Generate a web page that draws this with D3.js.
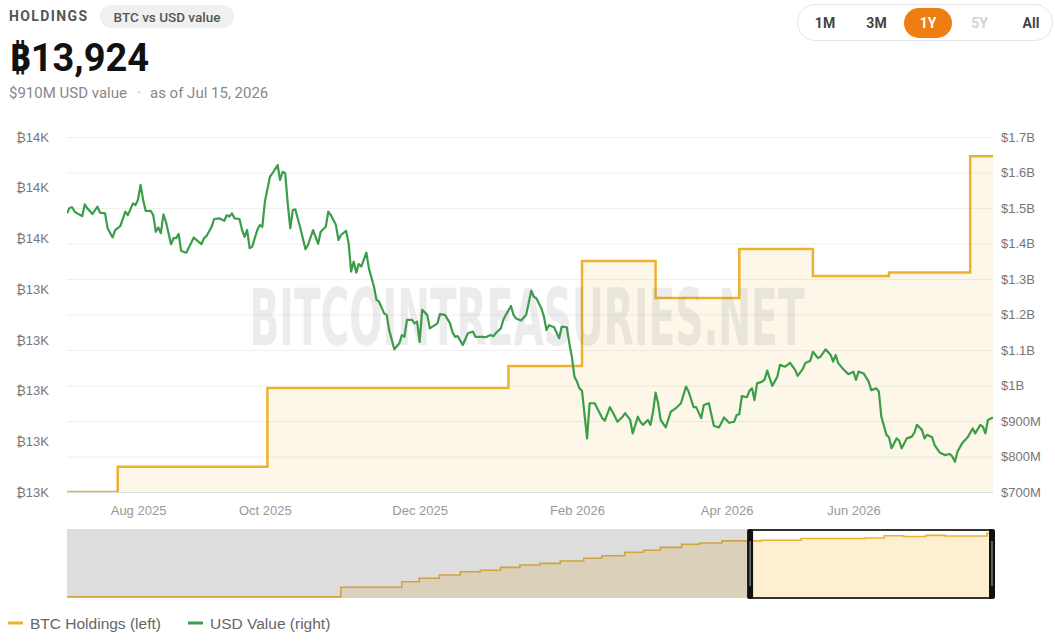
<!DOCTYPE html>
<html>
<head>
<meta charset="utf-8">
<script src="https://cdn.jsdelivr.net/npm/d3@7"></script>
<style>
  body { margin: 0; background: #fff; }
  svg { display: block; font-family: "Liberation Sans", Arial, "Noto Sans", "DejaVu Sans", sans-serif; }
</style>
</head>
<body>
<svg id="chart" width="1055" height="641"></svg>
<script>
// ---- data (day offsets from Jul 15, 2025) ----
var holdDays = [0, 20, 79, 174, 203, 232, 265, 294, 324, 356, 365];
var holdBtc  = [12600, 12700, 13010, 13097, 13511, 13365, 13558, 13452, 13466, 13924, 13924];

// earlier history, only shown in the navigator
var histDays = [-1015, -607, -516, -490, -460, -429, -399, -369, -340, -310, -280, -245, -218, -184, -156, -131, -99, -72, -39];
var histBtc  = [2830, 4470, 5450, 6050, 6630, 7200, 7450, 7970, 8380, 8670, 9080, 9550, 10000, 10600, 10950, 11470, 12000, 12230, 12600];

// USD value, $M
var usdDays = [0,1,2,3,4,6,7,8,9,10,12,13,15,16,18,19,21,23,24,26,27,28,29,30,31,33,34,35,36,37,38,39,41,42,43,44,45,47,50,51,53,54,55,57,58,60,62,63,64,65,66,68,69,70,71,72,73,75,76,77,78,80,81,83,84,85,86,87,88,89,90,92,94,95,97,99,100,102,103,104,106,107,108,110,111,112,113,114,115,116,118,119,121,122,123,125,126,127,129,131,132,133,134,136,137,138,139,140,142,143,145,146,147,149,151,152,153,154,156,158,160,161,163,165,167,168,169,171,172,173,175,176,177,179,181,183,184,185,187,188,189,190,192,194,195,197,198,199,200,201,202,203,205,206,208,209,211,212,214,215,217,219,220,222,223,225,226,227,229,230,231,232,233,234,236,238,240,242,244,245,247,248,250,251,253,255,257,259,261,263,264,265,266,268,269,270,271,272,274,275,276,277,278,280,281,283,284,285,287,288,290,291,293,294,296,297,299,301,302,303,304,306,308,310,311,312,314,316,317,319,320,321,323,324,325,327,328,329,331,333,334,335,337,338,339,341,342,344,346,348,349,350,351,353,355,357,358,360,361,362,363,365];
var usdValue = [1485,1500,1502,1490,1485,1477,1510,1499,1492,1483,1504,1487,1485,1443,1417,1438,1449,1490,1480,1513,1508,1524,1565,1523,1492,1492,1480,1433,1445,1429,1482,1461,1398,1415,1415,1427,1379,1374,1417,1410,1398,1415,1421,1447,1469,1471,1464,1480,1476,1485,1471,1469,1438,1419,1438,1387,1391,1438,1452,1447,1518,1588,1598,1621,1579,1602,1598,1513,1443,1494,1496,1443,1384,1396,1438,1399,1433,1447,1490,1480,1452,1410,1424,1436,1401,1321,1349,1318,1342,1335,1374,1330,1278,1241,1236,1203,1199,1156,1102,1119,1142,1137,1185,1185,1175,1180,1123,1213,1199,1161,1170,1175,1201,1199,1175,1149,1137,1139,1114,1147,1152,1137,1137,1136,1142,1139,1147,1161,1185,1199,1224,1199,1189,1183,1199,1267,1250,1246,1217,1194,1156,1170,1164,1133,1166,1164,1119,1081,1025,1011,992,985,851,950,950,936,908,901,939,926,898,912,922,903,865,912,898,889,903,889,926,980,950,903,882,926,936,950,997,983,939,939,908,945,950,886,882,910,895,898,917,919,970,967,985,992,959,1006,1011,1017,1042,1020,999,1025,1058,1053,1058,1064,1044,1027,1046,1063,1070,1095,1077,1081,1102,1086,1067,1086,1063,1046,1032,1039,1016,1039,1034,1011,987,992,983,912,861,854,823,851,845,823,851,856,867,889,875,851,861,854,832,811,804,807,799,785,814,839,854,879,865,889,884,865,903,910];

var btcTicks = [12600, 12800, 13000, 13200, 13400, 13600, 13800, 14000];
var xTickDays = [28, 78, 139, 201, 260, 310];
var xTickLabels = ["Aug 2025", "Oct 2025", "Dec 2025", "Feb 2026", "Apr 2026", "Jun 2026"];
var ranges = ["1M", "3M", "1Y", "5Y", "All"];

// ---- layout ----
var svg = d3.select("#chart");
var plot = { left: 67, right: 993, top: 137, bottom: 492 };
var nav = { top: 529, bottom: 598 };
var YELLOW = "#edb22d", GREEN = "#3a9e48";

var x = d3.scaleLinear().domain([0, 365]).range([plot.left, plot.right]);
var yBtc = d3.scaleLinear().domain([12600, 14000]).range([plot.bottom, plot.top]);
var yUsd = d3.scaleLinear().domain([700, 1700]).range([plot.bottom, plot.top]);

var hold = holdDays.map(function (d, i) { return { d: d, v: holdBtc[i] }; });
var usd = usdDays.map(function (d, i) { return { d: d, v: usdValue[i] }; });

// ---- header ----
var head = svg.append("g").style("font-family", "Roboto, 'Noto Sans', sans-serif");
head.append("text").attr("x", 9).attr("y", 21)
    .attr("font-size", 14).attr("font-weight", 700).attr("letter-spacing", 1.4)
    .attr("fill", "#555").text("HOLDINGS");
head.append("rect").attr("x", 100).attr("y", 5).attr("width", 134).attr("height", 23)
    .attr("rx", 11.5).attr("fill", "#f0f0f0");
head.append("text").attr("x", 167).attr("y", 21.5).attr("text-anchor", "middle")
    .attr("font-size", 13.5).attr("font-weight", 500).attr("fill", "#555").text("BTC vs USD value");
head.append("text").attr("x", 9).attr("y", 71)
    .attr("font-size", 38).attr("font-weight", 700).attr("fill", "#111").text("₿13,924");
head.append("text").attr("x", 9).attr("y", 98).attr("font-size", 15).attr("fill", "#888")
    .text("$910M USD value");
head.append("text").attr("x", 137).attr("y", 98).attr("font-size", 15).attr("fill", "#aaa")
    .text("·");
head.append("text").attr("x", 150).attr("y", 98).attr("font-size", 15).attr("fill", "#888")
    .text("as of Jul 15, 2026");

// range selector
var rs = svg.append("g").style("font-family", "Roboto, 'Noto Sans', sans-serif");
rs.append("rect").attr("x", 797.5).attr("y", 4.5).attr("width", 255).attr("height", 36)
    .attr("rx", 18).attr("fill", "#fff").attr("stroke", "#e6e6e6");
var rx = d3.scalePoint().domain(ranges).range([825, 1031]);
rs.append("rect").attr("x", rx("1Y") - 24).attr("y", 8).attr("width", 48).attr("height", 30)
    .attr("rx", 15).attr("fill", "#ef7d11");
rs.selectAll("text.rng").data(ranges).enter().append("text")
    .attr("class", "rng")
    .attr("x", function (d) { return rx(d); })
    .attr("y", 28)
    .attr("text-anchor", "middle").attr("font-size", 14).attr("font-weight", 700)
    .attr("fill", function (d) { return d == "1Y" ? "#fff" : d == "5Y" ? "#d4d4d4" : "#444"; })
    .text(function (d) { return d; });

// ---- grid ----
svg.append("g").selectAll("line").data(yUsd.ticks(10)).enter().append("line")
    .attr("x1", plot.left).attr("x2", plot.right)
    .attr("y1", function (d) { return yUsd(d) + 0.5; })
    .attr("y2", function (d) { return yUsd(d) + 0.5; })
    .attr("stroke", function (d, i) { return i == 0 ? "#dedede" : "#efefef"; });

svg.append("clipPath").attr("id", "clip").append("rect")
    .attr("x", plot.left).attr("y", plot.top - 10)
    .attr("width", plot.right - plot.left).attr("height", plot.bottom - plot.top + 10);

var main = svg.append("g").attr("clip-path", "url(#clip)");

var holdArea = d3.area().curve(d3.curveStepAfter)
    .x(function (d) { return x(d.d); })
    .y0(plot.bottom)
    .y1(function (d) { return yBtc(d.v); });
var holdLine = d3.line().curve(d3.curveStepAfter)
    .x(function (d) { return x(d.d); })
    .y(function (d) { return yBtc(d.v); });
var usdLine = d3.line()
    .x(function (d) { return x(d.d); })
    .y(function (d) { return yUsd(d.v); });

main.append("path").datum(hold).attr("d", holdArea).attr("fill", "rgba(240,180,41,0.1)");

// watermark: narrow font size, stretched vertically
svg.append("text").attr("transform", "translate(527,345) scale(1,1.8)")
    .attr("text-anchor", "middle")
    .attr("font-family", "'DejaVu Sans Condensed', 'DejaVu Sans', sans-serif")
    .attr("font-weight", 700).attr("font-size", 44)
    .attr("textLength", 555).attr("lengthAdjust", "spacingAndGlyphs")
    .attr("fill", "#777").attr("fill-opacity", 0.14)
    .text("BITCOINTREASURIES.NET");

main.append("path").datum(hold).attr("d", holdLine)
    .attr("fill", "none").attr("stroke", YELLOW).attr("stroke-width", 2.5);
main.append("path").datum(usd).attr("d", usdLine)
    .attr("fill", "none").attr("stroke", GREEN).attr("stroke-width", 2.2)
    .attr("stroke-linejoin", "round");

// ---- axes ----
var axisStyle = function (g, color) {
    g.select(".domain").remove();
    g.selectAll("text").attr("font-size", 13).attr("fill", color)
        .attr("font-family", "'Liberation Sans', 'Noto Sans', 'DejaVu Sans', sans-serif");
};
svg.append("g").attr("transform", "translate(" + plot.left + ",0)")
    .call(d3.axisLeft(yBtc).tickValues(btcTicks).tickSize(0).tickPadding(18)
        .tickFormat(function (d) { return "₿" + Math.round(d / 1000) + "K"; }))
    .call(axisStyle, "#777");
svg.append("g").attr("transform", "translate(" + plot.right + ",0)")
    .call(d3.axisRight(yUsd).ticks(10).tickSize(0).tickPadding(8)
        .tickFormat(function (d) { return d >= 1000 ? "$" + d3.format(".1~f")(d / 1000) + "B" : "$" + d + "M"; }))
    .call(axisStyle, "#777");
svg.append("g").attr("transform", "translate(0," + plot.bottom + ")")
    .call(d3.axisBottom(x).tickValues(xTickDays).tickSize(0).tickPadding(14)
        .tickFormat(function (d, i) { return xTickLabels[i]; }))
    .call(axisStyle, "#999");

// ---- navigator ----
var navData = histDays.map(function (d, i) { return { d: d, v: histBtc[i] }; }).concat(hold);
var xNav = d3.scaleLinear().domain([-1015, 365]).range([plot.left, plot.right]);
var yNav = d3.scaleLinear().domain([2600, 14680]).range([nav.bottom, nav.top]);
var selL = xNav(0), selR = xNav(365);

var ng = svg.append("g");
ng.append("rect").attr("x", plot.left).attr("y", nav.top)
    .attr("width", plot.right - plot.left).attr("height", nav.bottom - nav.top).attr("fill", "#fff");
ng.append("path").datum(navData)
    .attr("d", d3.area().curve(d3.curveStepAfter)
        .x(function (d) { return xNav(d.d); }).y0(nav.bottom).y1(function (d) { return yNav(d.v); }))
    .attr("fill", "rgba(245,190,60,0.24)");
ng.append("path").datum(navData)
    .attr("d", d3.line().curve(d3.curveStepAfter)
        .x(function (d) { return xNav(d.d); }).y(function (d) { return yNav(d.v); }))
    .attr("fill", "none").attr("stroke", YELLOW).attr("stroke-width", 1.6);
ng.append("rect").attr("x", plot.left).attr("y", nav.top)
    .attr("width", selL - plot.left).attr("height", nav.bottom - nav.top)
    .attr("fill", "rgba(120,120,120,0.25)");
ng.append("rect").attr("x", selL + 1).attr("y", nav.top + 1)
    .attr("width", selR - selL - 1).attr("height", nav.bottom - nav.top - 1)
    .attr("rx", 2).attr("fill", "none").attr("stroke", "#333").attr("stroke-width", 2);
[selL + 2, selR - 1].forEach(function (hx) {
    ng.append("rect").attr("x", hx - 3).attr("y", nav.top).attr("width", 6)
        .attr("height", nav.bottom - nav.top + 1).attr("rx", 2).attr("fill", "#111");
    ng.append("line").attr("x1", hx).attr("x2", hx)
        .attr("y1", nav.top + 12).attr("y2", nav.bottom - 12)
        .attr("stroke", "#aaa").attr("stroke-width", 1);
});

// ---- legend ----
var legend = [{ name: "BTC Holdings (left)", color: YELLOW, x: 8 }, { name: "USD Value (right)", color: GREEN, x: 188 }];
var lg = svg.append("g").selectAll("g").data(legend).enter().append("g")
    .attr("transform", function (d) { return "translate(" + d.x + ",623)"; });
lg.append("line").attr("x1", 0).attr("x2", 15).attr("stroke", function (d) { return d.color; })
    .attr("stroke-width", 3);
lg.append("text").attr("x", 22).attr("y", 5.5).attr("font-size", 15.5).attr("fill", "#666")
    .text(function (d) { return d.name; });
</script>
</body>
</html>
